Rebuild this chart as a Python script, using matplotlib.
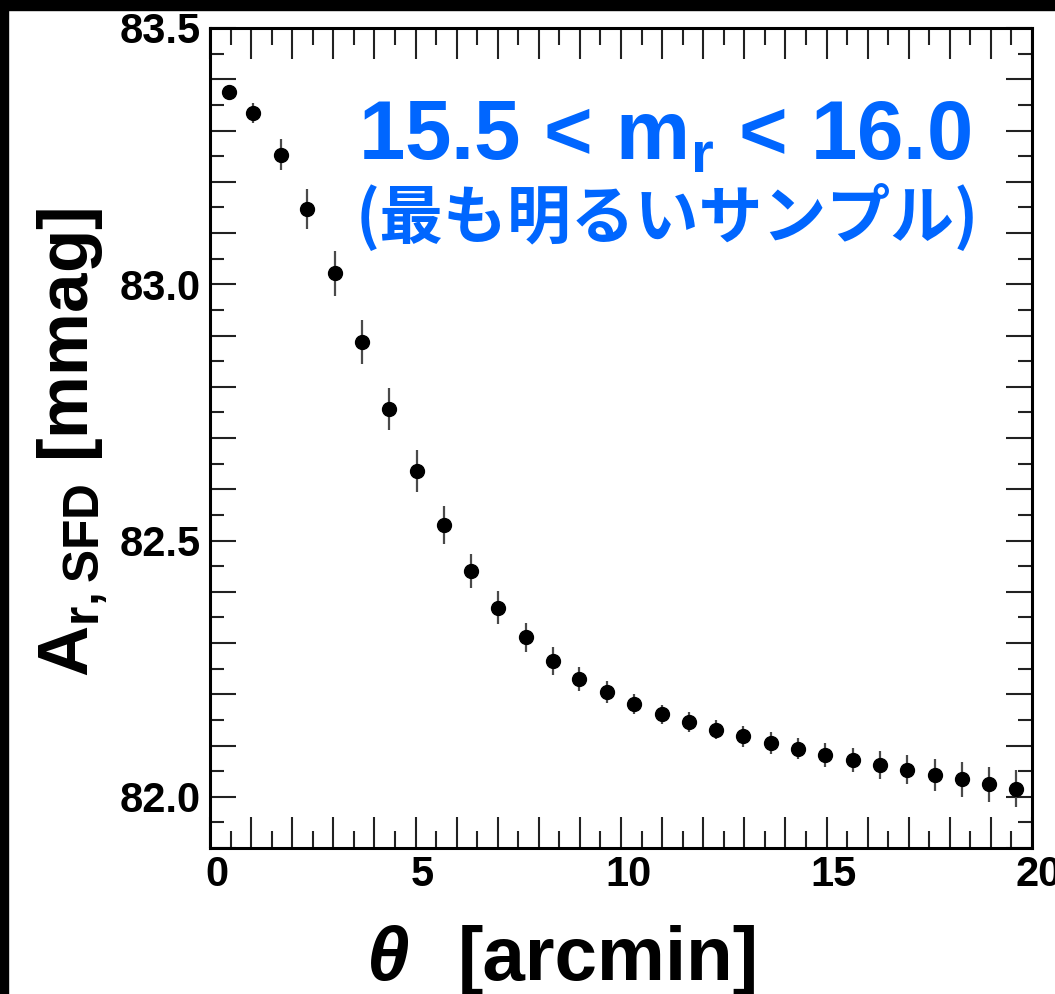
import numpy as np
import matplotlib
matplotlib.use('Agg')
import matplotlib.pyplot as plt
from matplotlib.ticker import MultipleLocator, FuncFormatter
from matplotlib.patches import Rectangle
import matplotlib.transforms as mtransforms

plt.rcParams['font.family'] = ['Liberation Sans', 'DejaVu Sans']
plt.rcParams['mathtext.default'] = 'regular'

# angular separation [arcmin]
theta = [0.46, 1.05, 1.72, 2.37, 3.04, 3.71, 4.36, 5.03, 5.69, 6.34,
         7.01, 7.68, 8.34, 8.99, 9.65, 10.32, 10.99, 11.65, 12.31, 12.98,
         13.64, 14.30, 14.96, 15.64, 16.30, 16.97, 17.64, 18.29, 18.95, 19.60]
# mean SFD extinction [mmag]
a_sfd = [83.376, 83.334, 83.253, 83.146, 83.021, 82.887, 82.757, 82.636, 82.530, 82.440,
         82.369, 82.311, 82.265, 82.230, 82.204, 82.181, 82.161, 82.146, 82.131, 82.118,
         82.105, 82.094, 82.082, 82.072, 82.062, 82.053, 82.042, 82.034, 82.024, 82.016]
a_err = [0.012, 0.020, 0.031, 0.039, 0.044, 0.043, 0.041, 0.041, 0.037, 0.033,
         0.032, 0.028, 0.027, 0.024, 0.021, 0.020, 0.019, 0.019, 0.019, 0.020,
         0.021, 0.021, 0.023, 0.024, 0.028, 0.029, 0.031, 0.034, 0.035, 0.036]

title_line1 = '15.5 < m$_\\mathregular{r}$ < 16.0'
title_line2 = '(最も明るいサンプル)'

W, H = 1055, 994
fig = plt.figure(figsize=(W / 100, H / 100), dpi=100)
fig.patch.set_facecolor('white')
# black frame bits at top and left
fig.patches.append(Rectangle((0, 1 - 10 / H), 1, 10 / H, transform=fig.transFigure,
                             color='black', zorder=0))
fig.patches.append(Rectangle((0, 0), 8 / W, 1, transform=fig.transFigure,
                             color='black', zorder=0))

ax = fig.add_axes([210 / W, 1 - 848 / H, (1032 - 210) / W, (848 - 28) / H])
ax.errorbar(theta, a_sfd, yerr=a_err, fmt='o', color='black', ms=10,
            ecolor='#4a4a4a', elinewidth=1.6, capsize=0)

ax.set_xlim(0, 20)
ax.set_ylim(81.9, 83.5)

ax.xaxis.set_major_locator(MultipleLocator(1))
ax.xaxis.set_minor_locator(MultipleLocator(0.5))
ax.yaxis.set_major_locator(MultipleLocator(0.1))
ax.yaxis.set_minor_locator(MultipleLocator(0.05))
ax.xaxis.set_major_formatter(FuncFormatter(
    lambda v, p: f'{v:.0f}' if abs(v / 5 - round(v / 5)) < 1e-6 else ''))
ax.yaxis.set_major_formatter(FuncFormatter(
    lambda v, p: f'{v:.1f}' if abs(v / 0.5 - round(v / 0.5)) < 1e-6 else ''))

ax.tick_params(which='both', direction='in', top=True, right=True, width=1.5,
               color='#222222', labelsize=30)
ax.tick_params(axis='x', which='major', length=22, pad=5)
ax.tick_params(axis='x', which='minor', length=12)
ax.tick_params(axis='y', which='major', length=19, pad=7)
ax.tick_params(axis='y', which='minor', length=10)
for lab in ax.get_xticklabels() + ax.get_yticklabels():
    lab.set_fontweight('bold')
offset = mtransforms.ScaledTranslation(7 / 100, 0, fig.dpi_scale_trans)
for lab in ax.get_xticklabels():
    lab.set_transform(lab.get_transform() + offset)

for s in ax.spines.values():
    s.set_linewidth(2.2)

# axis titles
fig.text(367 / W, 1 - 980 / H, 'θ', fontsize=55, fontweight='bold', fontstyle='italic',
         ha='left', va='baseline')
fig.text(458 / W, 1 - 980 / H, '[arcmin]', fontsize=55, fontweight='bold',
         ha='left', va='baseline')
fig.text(89 / W, 1 - 442 / H, 'A$_\\mathregular{r,SFD}$ [mmag]', fontsize=51,
         fontweight='bold', rotation=90, ha='center', va='baseline',
         rotation_mode='anchor')

# annotation in blue
blue = '#0066ff'
fig.text(358 / W, 1 - 160 / H, title_line1, fontsize=60, fontweight='bold',
         color=blue, ha='left', va='baseline')
fig.text(356 / W, 1 - 238 / H, title_line2, fontsize=46, fontweight='bold',
         color=blue, ha='left', va='baseline',
         family=['Noto Sans CJK JP', 'DejaVu Sans'])

fig.savefig('out.png', dpi=100)
